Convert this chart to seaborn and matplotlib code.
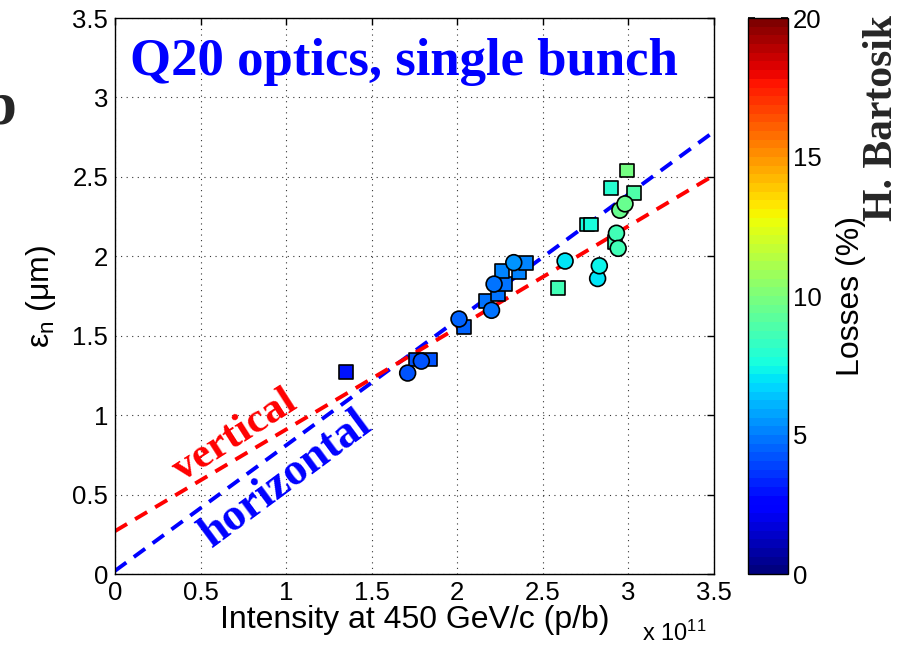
import numpy as np
import pandas as pd
import matplotlib
matplotlib.use("Agg")
import matplotlib.pyplot as plt
import seaborn as sns

# ---- data (intensity in units of 1e11 p/b) ----
sq_intensity = [1.35, 1.76, 1.84, 2.04, 2.17, 2.24, 2.28, 2.26, 2.36, 2.40,
                2.59, 2.76, 2.78, 2.90, 2.99, 3.03, 2.92]
sq_emittance = [1.27, 1.35, 1.35, 1.555, 1.72, 1.76, 1.825, 1.91, 1.90, 1.96,
                1.80, 2.20, 2.20, 2.43, 2.54, 2.40, 2.09]
sq_losses = [3.0, 4.3, 4.3, 4.5, 4.8, 4.8, 4.8, 5.0, 5.0, 5.0,
             8.5, 7.8, 7.8, 8.0, 9.8, 9.0, 8.5]

ci_intensity = [1.71, 1.79, 2.01, 2.20, 2.215, 2.33, 2.63, 2.82, 2.83, 2.93, 2.94, 2.95, 2.98]
ci_emittance = [1.265, 1.34, 1.605, 1.66, 1.825, 1.96, 1.97, 1.86, 1.94, 2.145, 2.05, 2.29, 2.33]
ci_losses = [4.2, 4.3, 4.5, 4.8, 4.8, 5.5, 7.0, 7.0, 7.2, 8.5, 8.5, 9.5, 9.5]

# linear fits: intercept, slope
fit_names = ["horizontal", "vertical"]
fit_intercepts = [0.02, 0.27]
fit_slopes = [0.79, 0.64]
fit_colors = ["#0000ff", "#ff0000"]

x_ticks = [0, 0.5, 1, 1.5, 2, 2.5, 3, 3.5]
x_ticklabels = ["0", "0.5", "1", "1.5", "2", "2.5", "3", "3.5"]
y_ticks = [0, 0.5, 1, 1.5, 2, 2.5, 3, 3.5]
y_ticklabels = ["0", "0.5", "1", "1.5", "2", "2.5", "3", "3.5"]
cb_ticks = [0, 5, 10, 15, 20]

sns.set_theme(style="white")
plt.rcParams['font.family'] = ['Liberation Sans', 'DejaVu Sans']
plt.rcParams['mathtext.fontset'] = 'custom'
plt.rcParams['mathtext.rm'] = 'Liberation Sans'
plt.rcParams['mathtext.it'] = 'Liberation Sans'

fig = plt.figure(figsize=(9.01, 6.52), dpi=100)
ax = fig.add_axes([115/901, 1-574/652, 599/901, 556/652])
cax = fig.add_axes([748/901, 1-574/652, 40/901, 556/652])

cmap = plt.get_cmap('jet', 64)
norm = matplotlib.colors.Normalize(0, 20)

# fit lines
xs = np.linspace(0, 3.5, 50)
for name, b, m, c in zip(fit_names, fit_intercepts, fit_slopes, fit_colors):
    df = pd.DataFrame({"x": xs, "y": b + m * xs})
    sns.lineplot(data=df, x="x", y="y", ax=ax, color=c, lw=2.8, zorder=2)
    ax.lines[-1].set_dashes((3.6, 2.4))

df_sq = pd.DataFrame({"x": sq_intensity, "y": sq_emittance, "l": sq_losses})
df_ci = pd.DataFrame({"x": ci_intensity, "y": ci_emittance, "l": ci_losses})
sns.scatterplot(data=df_sq, x="x", y="y", hue="l", palette=cmap, hue_norm=norm,
                marker="s", s=100, edgecolor="black", linewidth=1.2, ax=ax,
                legend=False, zorder=3)
sns.scatterplot(data=df_ci, x="x", y="y", hue="l", palette=cmap, hue_norm=norm,
                marker="o", s=130, edgecolor="black", linewidth=1.2, ax=ax,
                legend=False, zorder=4)

ax.set_xlim(0, 3.5)
ax.set_ylim(0, 3.5)
ax.set_xticks(x_ticks)
ax.set_xticklabels(x_ticklabels)
ax.set_yticks(y_ticks)
ax.set_yticklabels(y_ticklabels)
ax.tick_params(direction='in', length=5, width=1, top=True, right=True,
               labelsize=18.5, colors='black', pad=5)
ax.grid(True, color='black', linestyle=(0, (1, 4)), linewidth=0.8, alpha=0.8)
for sp in ax.spines.values():
    sp.set_color('black')
    sp.set_linewidth(1)
ax.set_xlabel("Intensity at 450 GeV/c (p/b)", fontsize=23, color='black', labelpad=0)
ax.set_ylabel(r"ε$_{\mathregular{n}}$ (μm)", fontsize=23, color='black', labelpad=10)
fig.text(642/901, 1-641/652, r"x 10$^{\mathregular{11}}$", fontsize=17, color='black')

ax.text(0.025, 0.8975, "Q20 optics, single bunch", transform=ax.transAxes,
        fontsize=38, color='#0000ff', fontweight='bold', family='Liberation Serif',
        ha='left', va='baseline')
ax.text(0.70, 0.87, "vertical", fontsize=31, color='#ff0000', fontweight='bold',
        family='Liberation Serif', rotation=32.6, ha='center', va='center',
        rotation_mode='anchor')
ax.text(1.00, 0.595, "horizontal", fontsize=33, color='#0000ff', fontweight='bold',
        family='Liberation Serif', rotation=36.5, ha='center', va='center',
        rotation_mode='anchor')

# colorbar
sm = matplotlib.cm.ScalarMappable(norm=norm, cmap=cmap)
cb = fig.colorbar(sm, cax=cax, ticks=cb_ticks)
cb.outline.set_edgecolor('black')
cb.outline.set_linewidth(1)
cax.tick_params(direction='in', length=5, labelsize=18.5, colors='black', right=True, left=True)
cb.set_label("Losses (%)", fontsize=23, color='black', labelpad=10)

fig.text(882/901, 1-118/652, "H. Bartosik", rotation=90, fontsize=30,
         fontweight='bold', family='Liberation Serif', ha='center', va='center')
fig.text(-18/901, 1-123/652, "b", fontsize=44, fontweight='bold',
         family='Liberation Serif', ha='left', va='baseline')

fig.savefig("out.png", dpi=100, facecolor='white')
